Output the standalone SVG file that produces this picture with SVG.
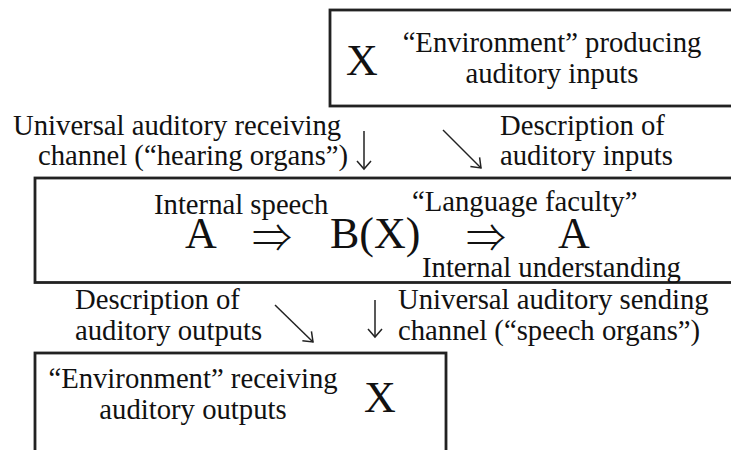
<svg xmlns="http://www.w3.org/2000/svg" width="731" height="450" viewBox="0 0 731 450" font-family="'Liberation Serif', 'Times New Roman', serif">
<defs>
<style>
text{fill:#111}
.t{font-size:28.7px}
.b{font-size:44px}
.ar{font-family:"Noto Sans CJK JP","DejaVu Sans",sans-serif;font-size:40px;font-weight:300}
.box{fill:#fff;stroke:#222;stroke-width:2.8}
.c{stroke:#222;stroke-width:1.5;fill:none}
</style>
<marker id="ah" viewBox="-10 -8 12 16" refX="0" refY="0" markerWidth="12" markerHeight="16" markerUnits="userSpaceOnUse" orient="auto"><path d="M-8.5,-6.5 L0,0 L-8.5,6.5" fill="none" stroke="#222" stroke-width="1.5"/></marker>
</defs>
<rect width="731" height="450" fill="#fff"/>
<g id="env-in">
<rect class="box" x="330" y="10" width="420" height="96"/>
<text class="b" x="346" y="75">X</text>
<text class="t" x="552" y="52" text-anchor="middle">“Environment” producing</text>
<text class="t" x="552" y="83" text-anchor="middle">auditory inputs</text>
</g>
<g id="labels-in">
<text class="t" x="13" y="135">Universal auditory receiving</text>
<text class="t" x="38" y="165">channel (“hearing organs”)</text>
<text class="t" x="500" y="135">Description of</text>
<text class="t" x="500" y="165">auditory inputs</text>
</g>
<g id="faculty">
<rect class="box" x="35" y="178" width="720" height="104.5"/>
<text class="t" x="154" y="214">Internal speech</text>
<text class="t" x="412" y="211">“Language faculty”</text>
<text class="b" x="185" y="248">A</text>
<text class="ar" x="252" y="252">⇒</text>
<text class="b" x="330" y="248">B(X)</text>
<text class="ar" x="466" y="252">⇒</text>
<text class="b" x="558" y="248">A</text>
<text class="t" x="422" y="276.5">Internal understanding</text>
</g>
<g id="labels-out">
<text class="t" x="75" y="309">Description of</text>
<text class="t" x="75" y="340">auditory outputs</text>
<text class="t" x="398" y="309">Universal auditory sending</text>
<text class="t" x="398" y="340">channel (“speech organs”)</text>
</g>
<g id="env-out">
<rect class="box" x="35" y="353" width="411" height="110"/>
<text class="t" x="193" y="388" text-anchor="middle">“Environment” receiving</text>
<text class="t" x="193" y="419" text-anchor="middle">auditory outputs</text>
<text class="b" x="364" y="412">X</text>
</g>
<g id="connectors">
<line class="c" x1="364" y1="131" x2="364" y2="169"/>
<path class="c" d="M357,161 L364,169 L371,161"/>
<line class="c" x1="443" y1="130" x2="481" y2="168" marker-end="url(#ah)"/>
<line class="c" x1="275" y1="305" x2="313" y2="342" marker-end="url(#ah)"/>
<line class="c" x1="375" y1="300" x2="375" y2="337"/>
<path class="c" d="M368,329 L375,337 L382,329"/>
</g>
</svg>
